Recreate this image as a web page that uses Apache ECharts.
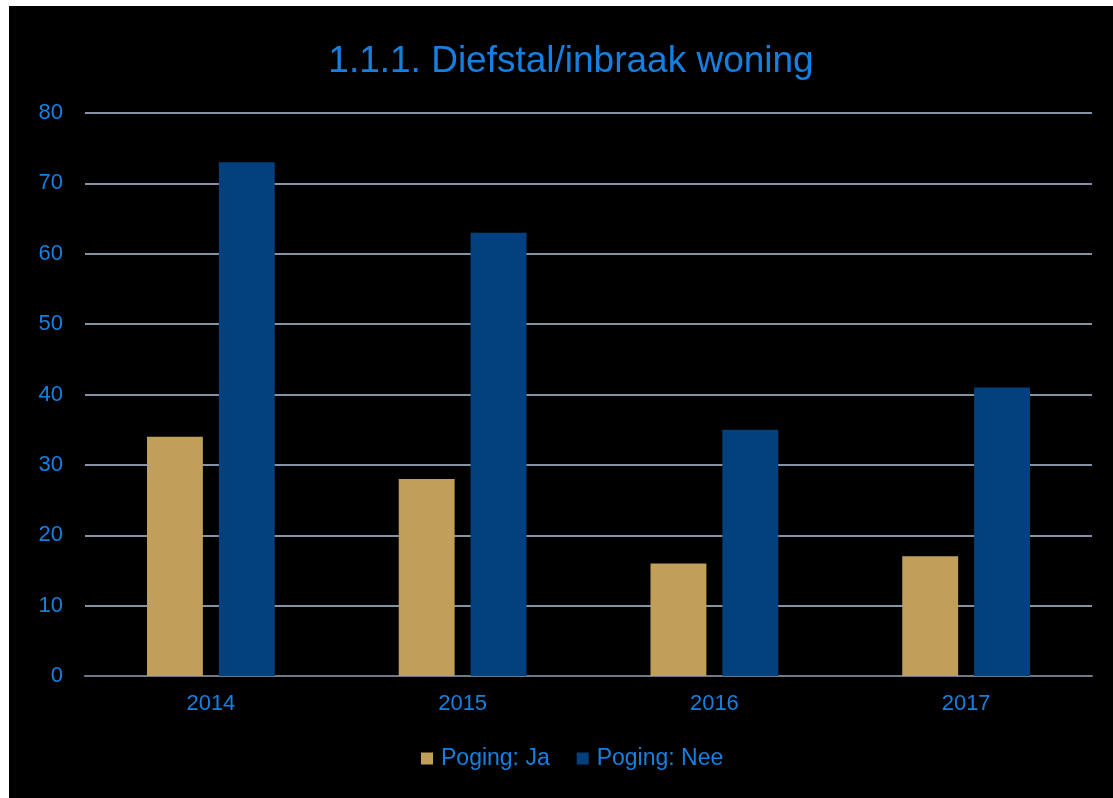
<!DOCTYPE html>
<html>
<head>
<meta charset="utf-8">
<script src="https://cdn.jsdelivr.net/npm/echarts@6/dist/echarts.min.js"></script>
<style>
html,body{margin:0;padding:0;background:#fff;width:1113px;height:798px;overflow:hidden;}
#c{position:absolute;left:9px;top:6px;width:1104px;height:792px;background:#000;}
</style>
</head>
<body>
<div id="c"></div>
<script>
const titleText = '1.1.1. Diefstal/inbraak woning';
const categories = ['2014', '2015', '2016', '2017'];
const seriesNames = ['Poging: Ja', 'Poging: Nee'];
const valuesJa = [34, 28, 16, 17];
const valuesNee = [73, 63, 35, 41];
const yTicks = { min: 0, max: 80, interval: 10 };

const blue = '#1580E0';
const chart = echarts.init(document.getElementById('c'), null, { renderer: 'canvas' });
chart.setOption({
  backgroundColor: '#000',
  animation: false,
  title: {
    text: titleText,
    left: 562, top: 37, textAlign: 'center', padding: 0,
    textStyle: { color: blue, fontSize: 37, fontWeight: 'normal', fontFamily: 'Liberation Sans, Arial, sans-serif' }
  },
  legend: {
    data: seriesNames,
    left: 407, top: 736,
    icon: 'rect', itemWidth: 12, itemHeight: 12, itemGap: 27,
    textStyle: { color: blue, fontSize: 23, fontFamily: 'Liberation Sans, Arial, sans-serif', padding: [0, 0, 0, 3] }
  },
  grid: { left: 76, right: 21, top: 107, bottom: 122, containLabel: false },
  xAxis: {
    type: 'category', data: categories,
    axisLine: { lineStyle: { color: '#6f7a86', width: 2 } },
    axisTick: { show: false },
    axisLabel: { color: blue, fontSize: 22, margin: 17, fontFamily: 'Liberation Sans, Arial, sans-serif' }
  },
  yAxis: {
    type: 'value', min: yTicks.min, max: yTicks.max, interval: yTicks.interval,
    axisLine: { show: false }, axisTick: { show: false },
    splitLine: { lineStyle: { color: '#8494a4', width: 2 } },
    axisLabel: { color: blue, fontSize: 22, margin: 22, fontFamily: 'Liberation Sans, Arial, sans-serif' }
  },
  series: [
    { name: seriesNames[0], type: 'bar', data: valuesJa, itemStyle: { color: '#C09F5A' }, barWidth: '22.2%', barGap: '28.6%' },
    { name: seriesNames[1], type: 'bar', data: valuesNee, itemStyle: { color: '#02417E' }, barWidth: '22.2%', barGap: '28.6%' }
  ]
});
</script>
</body>
</html>
